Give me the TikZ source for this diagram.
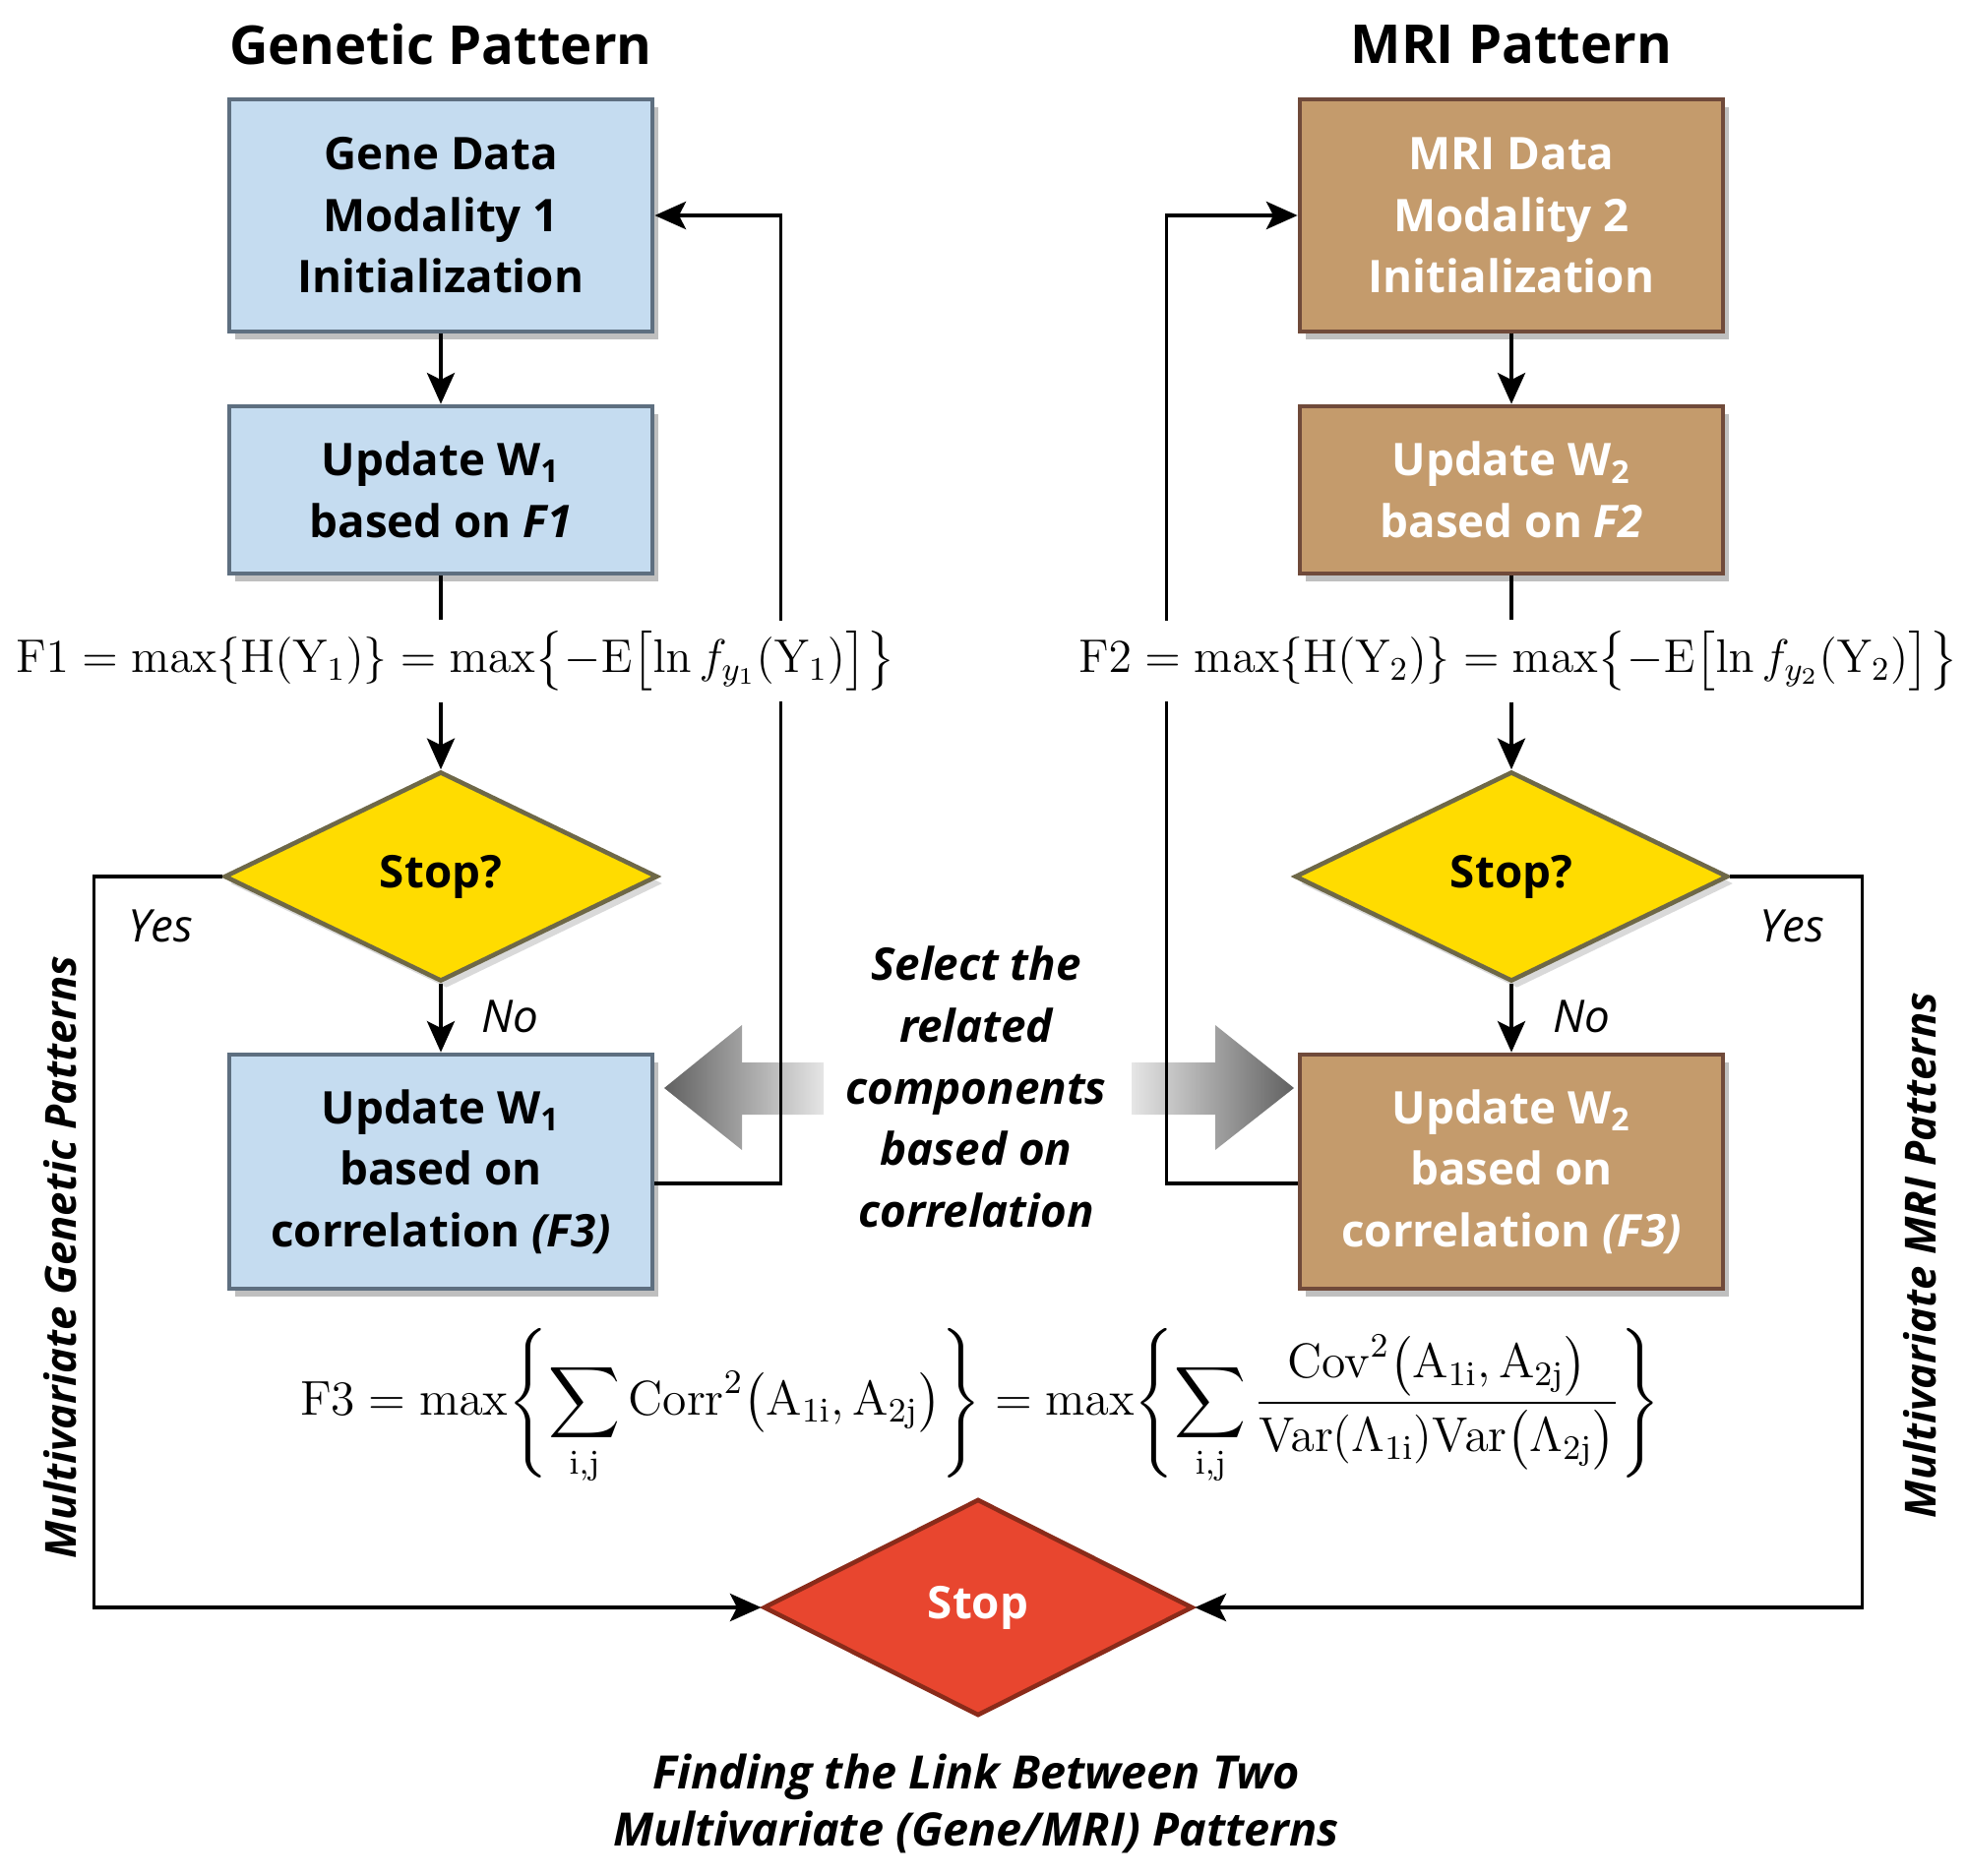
\documentclass[tikz,border=0pt]{standalone}
\usepackage{fix-cm}
\usepackage{amsmath}
\usepackage[no-math]{fontspec}
\setmainfont{Open Sans}
\usetikzlibrary{shapes.geometric,shadows,arrows.meta}

\definecolor{geneblue}{HTML}{C5DCF0}
\definecolor{geneedge}{HTML}{5E6F80}
\definecolor{mribrown}{HTML}{C49B6C}
\definecolor{mriedge}{HTML}{704A3A}
\definecolor{askyellow}{HTML}{FFDC00}
\definecolor{askedge}{HTML}{6E6848}
\definecolor{endred}{HTML}{E8462F}
\definecolor{endedge}{HTML}{8A2B1A}

\tikzset{
        box/.style={rectangle, line width=1.3pt, minimum width=4.3cm, align=center,
                font=\fontsize{13}{17.8}\selectfont\bfseries,
                drop shadow={shadow xshift=1.6pt, shadow yshift=-2.2pt, opacity=0.5}},
        genebox/.style={box, fill=geneblue, draw=geneedge},
        mribox/.style={box, fill=mribrown, draw=mriedge, text=white},
        ask/.style={diamond, fill=askyellow, draw=askedge, line width=1.3pt, inner sep=0pt,
                minimum width=4.4cm, minimum height=2.13cm,
                font=\fontsize{13}{16}\selectfont\bfseries,
                drop shadow={shadow xshift=1.6pt, shadow yshift=-2pt, opacity=0.3}},
        title/.style={font=\fontsize{15.5}{18}\selectfont\bfseries},
        lab/.style={font=\fontsize{13}{16}\selectfont\itshape},
        side/.style={font=\fontsize{12.4}{15}\selectfont\bfseries\itshape, rotate=90},
        eqn/.style={fill=white, inner xsep=2pt, inner ysep=3pt},
        link/.style={line width=1pt},
        flow/.style={link, -{Stealth[length=9pt, width=8pt, inset=2pt]}}
}

\begin{document}
\begin{tikzpicture}[x=0.01cm, y=-0.01cm]
        \useasboundingbox (0,0) rectangle (2000,1906);

        \node[title](gt) at (448,45) {Genetic Pattern};
        \node[title](mt) at (1536,45) {MRI Pattern};

        \node[genebox, minimum height=2.36cm](g1) at (448,219) {Gene Data\\Modality 1\\Initialization};
        \node[genebox, minimum height=1.7cm](g2) at (448,498) {Update W\textsubscript{1}\\based on \textit{F1}};
        \node[ask](d1) at (448,891) {Stop?};
        \node[genebox, minimum height=2.38cm](g3) at (448,1191) {Update W\textsubscript{1}\\based on\\correlation \textit{(F3)}};

        \node[mribox, minimum height=2.36cm](m1) at (1536,219) {MRI Data\\Modality 2\\Initialization};
        \node[mribox, minimum height=1.7cm](m2) at (1536,498) {Update W\textsubscript{2}\\based on \textit{F2}};
        \node[ask](d2) at (1536,891) {Stop?};
        \node[mribox, minimum height=2.38cm](m3) at (1536,1191) {Update W\textsubscript{2}\\based on\\correlation \textit{(F3)}};

        \node[diamond, fill=endred, draw=endedge, line width=1.3pt, inner sep=0pt,
                minimum width=4.36cm, minimum height=2.2cm, text=white,
                font=\fontsize{13}{16}\selectfont\bfseries](stop) at (994,1634) {Stop};

        \shade[left color=black!62, right color=black!10] (675,1106) -- (754,1042) -- (754,1080) -- (837,1080)
                -- (837,1133) -- (754,1133) -- (754,1169) -- cycle;
        \shade[left color=black!10, right color=black!62] (1315,1106) -- (1235,1042) -- (1235,1080) -- (1150,1080)
                -- (1150,1133) -- (1235,1133) -- (1235,1169) -- cycle;

        \draw[flow] ([yshift=-3.4pt]g3.east) -- ++(128,0) |- (g1.east);
        \draw[flow] ([yshift=-3.4pt]m3.west) -- ++(-133,0) |- (m1.west);

        \node[eqn, font=\fontsize{13.6}{16}\selectfont](f1) at (463,672)
                {$\mathrm{F1} = \max\{\mathrm{H}(\mathrm{Y}_1)\} = \max\bigl\{-\mathrm{E}\bigl[\ln f_{y_1}(\mathrm{Y}_1)\bigr]\bigr\}$};
        \node[eqn, font=\fontsize{13.6}{16}\selectfont](f2) at (1543,672)
                {$\mathrm{F2} = \max\{\mathrm{H}(\mathrm{Y}_2)\} = \max\bigl\{-\mathrm{E}\bigl[\ln f_{y_2}(\mathrm{Y}_2)\bigr]\bigr\}$};
        \node[eqn, font=\fontsize{14.1}{18}\selectfont](f3) at (996,1430)
                {$\displaystyle \mathrm{F3} = \max\!\left\{\sum_{\mathrm{i,j}}\mathrm{Corr}^2\bigl(\mathrm{A}_{1\mathrm{i}},\mathrm{A}_{2\mathrm{j}}\bigr)\right\}
                = \max\!\left\{\sum_{\mathrm{i,j}}\frac{\mathrm{Cov}^2\bigl(\mathrm{A}_{1\mathrm{i}},\mathrm{A}_{2\mathrm{j}}\bigr)}{\mathrm{Var}(\Lambda_{1\mathrm{i}})\mathrm{Var}\bigl(\Lambda_{2\mathrm{j}}\bigr)}\right\}$};

        \draw[flow] (g1) -- (g2);
        \draw[link] (g2) -- (g2 |- f1.north);
        \draw[flow] (f1.south -| d1.north) -- (d1);
        \draw[flow] (d1) -- (g3);
        \draw[flow] (m1) -- (m2);
        \draw[link] (m2) -- (m2 |- f2.north);
        \draw[flow] (f2.south -| d2.north) -- (d2);
        \draw[flow] (d2) -- (m3);

        \draw[flow] (d1.west) -- ++(-130,0) |- (stop.west);
        \draw[flow] (d2.east) -- ++(134,0) |- (stop.east);

        \node[lab](y1) at (163,941) {Yes};
        \node[lab](n1) at (518,1033) {No};
        \node[lab](y2) at (1821,941) {Yes};
        \node[lab](n2) at (1607,1033) {No};

        \node[side](s1) at (61,1278) {Multivariate Genetic Patterns};
        \node[side](s2) at (1951,1276) {Multivariate MRI Patterns};

        \node[align=center, font=\fontsize{13}{17.8}\selectfont\bfseries\itshape](sel) at (992,1105)
                {Select the\\related\\components\\based on\\correlation};

        \node[align=center, font=\fontsize{13.3}{16.5}\selectfont\bfseries\itshape](cap) at (992,1833)
                {Finding the Link Between Two\\Multivariate (Gene/MRI) Patterns};
\end{tikzpicture}
\end{document}
